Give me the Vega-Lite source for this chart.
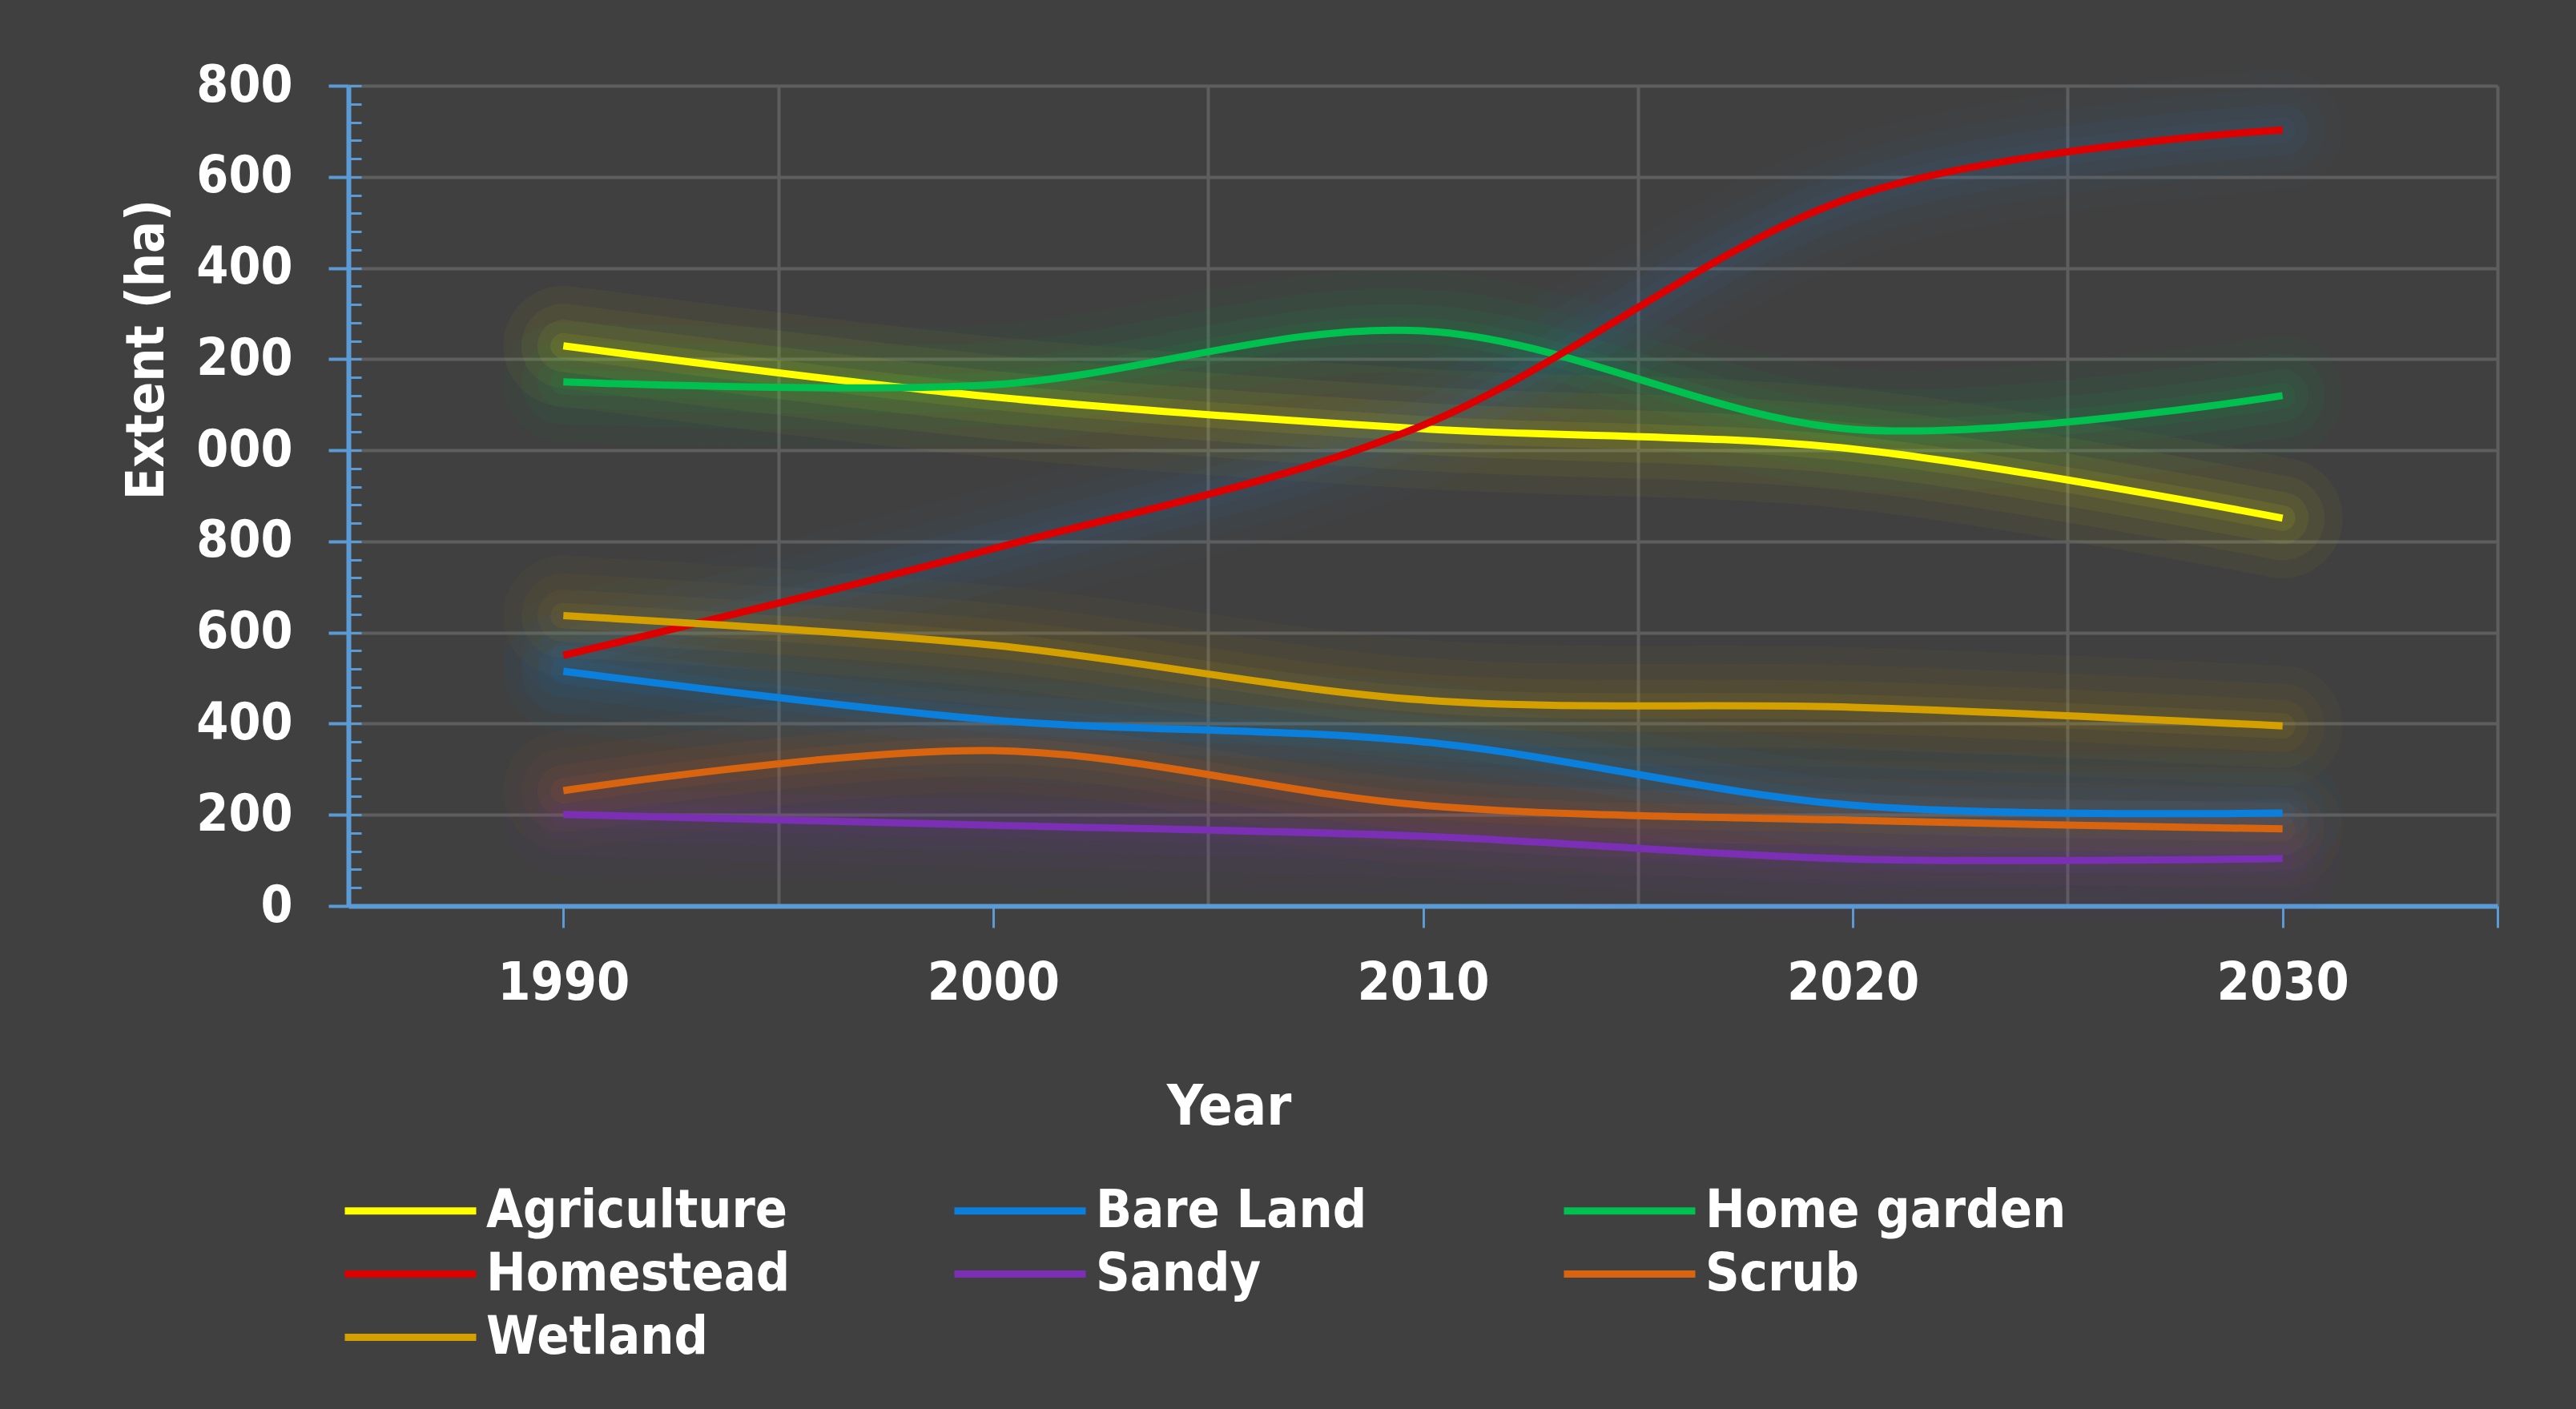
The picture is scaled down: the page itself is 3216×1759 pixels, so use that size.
{
  "$schema": "https://vega.github.io/schema/vega-lite/v6.json",
  "width": 2683,
  "height": 1024,
  "autosize": {"type": "none"},
  "padding": {"left": 435, "top": 107, "right": 98, "bottom": 628},
  "background": "#404040",
  "config": {
    "view": {"stroke": null, "fill": "#404040"},
    "font": "Liberation Sans Narrow, DejaVu Sans Condensed, sans-serif"
  },
  "data": {
    "values": [
      {"Year": 1990, "Class": "Agriculture", "Extent": 1229},
      {"Year": 2000, "Class": "Agriculture", "Extent": 1117},
      {"Year": 2010, "Class": "Agriculture", "Extent": 1047},
      {"Year": 2020, "Class": "Agriculture", "Extent": 1003},
      {"Year": 2030, "Class": "Agriculture", "Extent": 851},
      {"Year": 1990, "Class": "Bare Land", "Extent": 515},
      {"Year": 2000, "Class": "Bare Land", "Extent": 408},
      {"Year": 2010, "Class": "Bare Land", "Extent": 360},
      {"Year": 2020, "Class": "Bare Land", "Extent": 221},
      {"Year": 2030, "Class": "Bare Land", "Extent": 204},
      {"Year": 1990, "Class": "Home garden", "Extent": 1150},
      {"Year": 2000, "Class": "Home garden", "Extent": 1144},
      {"Year": 2010, "Class": "Home garden", "Extent": 1262},
      {"Year": 2020, "Class": "Home garden", "Extent": 1046},
      {"Year": 2030, "Class": "Home garden", "Extent": 1120},
      {"Year": 1990, "Class": "Homestead", "Extent": 550},
      {"Year": 2000, "Class": "Homestead", "Extent": 784},
      {"Year": 2010, "Class": "Homestead", "Extent": 1055},
      {"Year": 2020, "Class": "Homestead", "Extent": 1556},
      {"Year": 2030, "Class": "Homestead", "Extent": 1703},
      {"Year": 1990, "Class": "Sandy", "Extent": 201},
      {"Year": 2000, "Class": "Sandy", "Extent": 177},
      {"Year": 2010, "Class": "Sandy", "Extent": 153},
      {"Year": 2020, "Class": "Sandy", "Extent": 103},
      {"Year": 2030, "Class": "Sandy", "Extent": 104},
      {"Year": 1990, "Class": "Scrub", "Extent": 253},
      {"Year": 2000, "Class": "Scrub", "Extent": 341},
      {"Year": 2010, "Class": "Scrub", "Extent": 221},
      {"Year": 2020, "Class": "Scrub", "Extent": 188},
      {"Year": 2030, "Class": "Scrub", "Extent": 169},
      {"Year": 1990, "Class": "Wetland", "Extent": 637},
      {"Year": 2000, "Class": "Wetland", "Extent": 572},
      {"Year": 2010, "Class": "Wetland", "Extent": 452},
      {"Year": 2020, "Class": "Wetland", "Extent": 436},
      {"Year": 2030, "Class": "Wetland", "Extent": 395}
    ]
  },
  "encoding": {
    "x": {
      "field": "Year",
      "type": "quantitative",
      "scale": {"domain": [1985, 2035], "nice": false, "zero": false},
      "axis": {
        "values": [1985, 1990, 1995, 2000, 2005, 2010, 2015, 2020, 2025, 2030, 2035],
        "labelExpr": "datum.value % 10 == 0 ? format(datum.value, 'd') : ''",
        "labelOverlap": false,
        "labelFlush": false,
        "labelLimit": 0,
        "labelFontSize": 66,
        "labelFontWeight": "bold",
        "labelColor": "#ffffff",
        "labelPadding": 37,
        "domainColor": "#5B9BD5",
        "domainWidth": 6,
        "tickColor": "#5B9BD5",
        "tickWidth": 3,
        "tickSize": 27,
        "tickOpacity": {"condition": {"test": "datum.value % 10 == 0 || datum.value == 2035", "value": 1}, "value": 0},
        "grid": true,
        "gridColor": "#5e5e5e",
        "gridWidth": 4,
        "gridOpacity": {"condition": {"test": "datum.value % 10 == 5 && datum.value > 1985", "value": 1}, "value": 0},
        "title": "Year",
        "titleFontSize": 70,
        "titleFontWeight": "bold",
        "titleColor": "#ffffff",
        "titleX": 1099,
        "titleY": 272,
        "titleAlign": "center",
        "titleBaseline": "alphabetic"
      }
    }
  },
  "layer": [
    {
      "mark": {"type": "line", "interpolate": "cardinal", "strokeWidth": 150, "opacity": 0.035, "strokeCap": "round", "strokeJoin": "round"},
      "encoding": {
        "y": {
          "field": "Extent",
          "type": "quantitative",
          "scale": {"domain": [0, 1800], "nice": false},
          "axis": {
            "orient": "left",
            "values": [0, 200, 400, 600, 800, 1000, 1200, 1400, 1600, 1800],
            "labelExpr": "datum.value >= 1000 ? substring(format(datum.value, 'd'), 1) : format(datum.value, 'd')",
            "labelOverlap": false,
            "labelLimit": 0,
            "labelFontSize": 64,
            "labelFontWeight": "bold",
            "labelColor": "#ffffff",
            "labelPadding": 45,
            "labelBaseline": "middle",
            "domainColor": "#5B9BD5",
            "domainWidth": 6,
            "tickColor": "#5B9BD5",
            "tickWidth": 4,
            "tickSize": 25,
            "grid": true,
            "gridColor": "#5e5e5e",
            "gridWidth": 4,
            "title": "Extent (ha)",
            "titleFontSize": 66,
            "titleFontWeight": "bold",
            "titleColor": "#ffffff",
            "titleAngle": 270,
            "titleAlign": "center",
            "titleBaseline": "alphabetic",
            "titleX": -232,
            "titleY": 329
          }
        },
        "color": {
          "field": "Class",
          "type": "nominal",
          "scale": {
            "domain": ["Agriculture", "Bare Land", "Home garden", "Homestead", "Sandy", "Scrub", "Wetland"],
            "range": ["#FFFF00", "#0A80DC", "#00C050", "#2E75B6", "#7B2FB5", "#D9640F", "#D4A000"]
          },
          "legend": null
        }
      }
    },
    {
      "mark": {"type": "line", "interpolate": "cardinal", "strokeWidth": 105, "opacity": 0.045, "strokeCap": "round", "strokeJoin": "round"},
      "encoding": {
        "y": {"field": "Extent", "type": "quantitative", "scale": {"domain": [0, 1800], "nice": false}, "axis": null},
        "color": {
          "field": "Class",
          "type": "nominal",
          "scale": {
            "domain": ["Agriculture", "Bare Land", "Home garden", "Homestead", "Sandy", "Scrub", "Wetland"],
            "range": ["#FFFF00", "#0A80DC", "#00C050", "#2E75B6", "#7B2FB5", "#D9640F", "#D4A000"]
          },
          "legend": null
        }
      }
    },
    {
      "mark": {"type": "line", "interpolate": "cardinal", "strokeWidth": 65, "opacity": 0.06, "strokeCap": "round", "strokeJoin": "round"},
      "encoding": {
        "y": {"field": "Extent", "type": "quantitative", "scale": {"domain": [0, 1800], "nice": false}, "axis": null},
        "color": {
          "field": "Class",
          "type": "nominal",
          "scale": {
            "domain": ["Agriculture", "Bare Land", "Home garden", "Homestead", "Sandy", "Scrub", "Wetland"],
            "range": ["#FFFF00", "#0A80DC", "#00C050", "#2E75B6", "#7B2FB5", "#D9640F", "#D4A000"]
          },
          "legend": null
        }
      }
    },
    {
      "mark": {"type": "line", "interpolate": "cardinal", "strokeWidth": 32, "opacity": 0.08, "strokeCap": "round", "strokeJoin": "round"},
      "encoding": {
        "y": {"field": "Extent", "type": "quantitative", "scale": {"domain": [0, 1800], "nice": false}, "axis": null},
        "color": {
          "field": "Class",
          "type": "nominal",
          "scale": {
            "domain": ["Agriculture", "Bare Land", "Home garden", "Homestead", "Sandy", "Scrub", "Wetland"],
            "range": ["#FFFF00", "#0A80DC", "#00C050", "#2E75B6", "#7B2FB5", "#D9640F", "#D4A000"]
          },
          "legend": null
        }
      }
    },
    {
      "mark": {"type": "line", "interpolate": "cardinal", "strokeWidth": 9},
      "encoding": {
        "y": {
          "field": "Extent",
          "type": "quantitative",
          "scale": {"domain": [0, 1800], "nice": false},
          "axis": {
            "orient": "left",
            "values": [0, 40, 80, 120, 160, 200, 240, 280, 320, 360, 400, 440, 480, 520, 560, 600, 640, 680, 720, 760, 800, 840, 880, 920, 960, 1000, 1040, 1080, 1120, 1160, 1200, 1240, 1280, 1320, 1360, 1400, 1440, 1480, 1520, 1560, 1600, 1640, 1680, 1720, 1760, 1800],
            "tickSize": -16,
            "tickWidth": 3,
            "tickColor": "#5B9BD5",
            "labels": false,
            "domain": false,
            "grid": false,
            "title": null
          }
        },
        "color": {
          "field": "Class",
          "type": "nominal",
          "scale": {
            "domain": ["Agriculture", "Bare Land", "Home garden", "Homestead", "Sandy", "Scrub", "Wetland"],
            "range": ["#FFFF00", "#0A80DC", "#00C050", "#DD0000", "#7B2FB5", "#D9640F", "#D4A000"]
          },
          "legend": {
            "orient": "none",
            "legendX": 32,
            "legendY": 1359,
            "direction": "horizontal",
            "columns": 3,
            "title": null,
            "symbolType": "M-2,0H2",
            "symbolSize": 6724,
            "symbolStrokeWidth": 9,
            "symbolOpacity": 1,
            "labelFontSize": 66,
            "labelFontWeight": "bold",
            "labelColor": "#ffffff",
            "labelOffset": 49,
            "labelLimit": 1000,
            "rowPadding": 0,
            "columnPadding": 115,
            "gridAlign": "all",
            "padding": 0
          }
        }
      }
    }
  ],
  "resolve": {"scale": {"color": "independent"}, "axis": {"y": "independent"}}
}
